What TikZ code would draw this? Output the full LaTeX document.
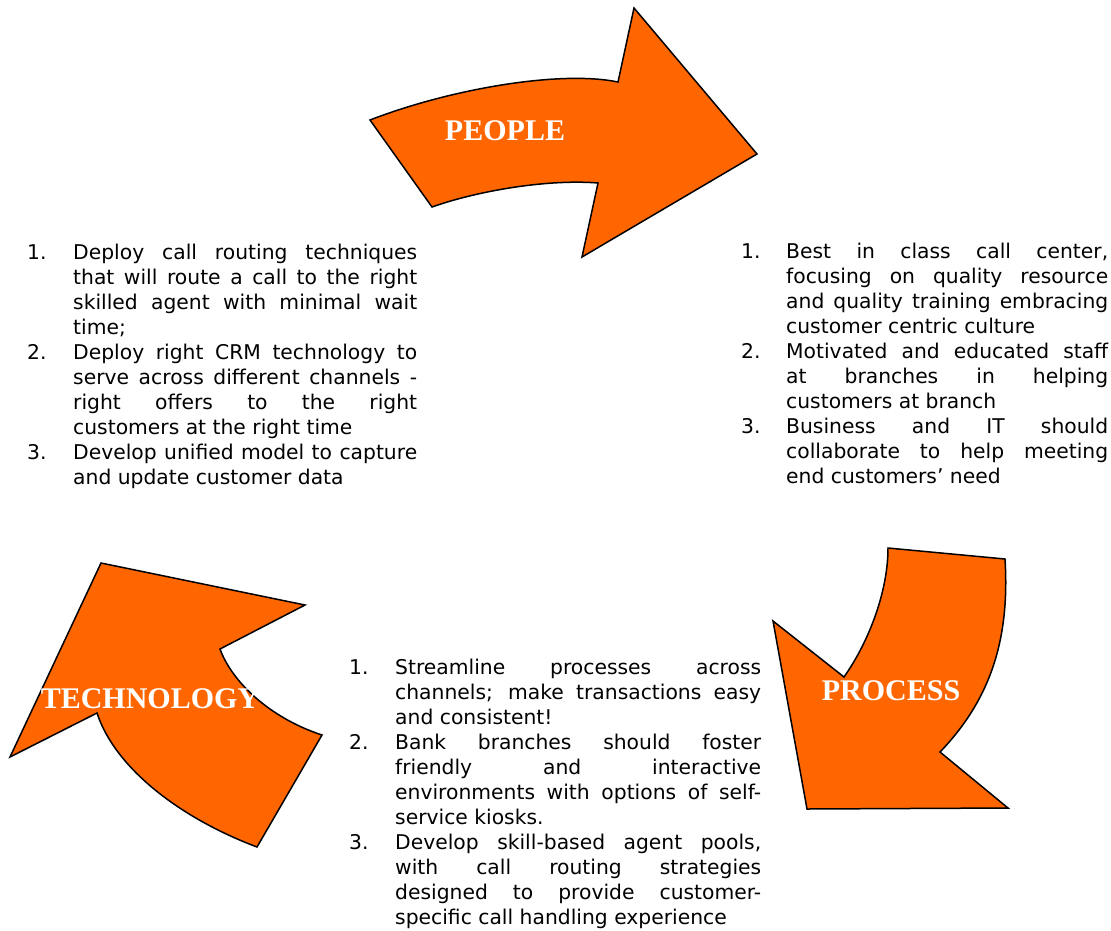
\documentclass[tikz,border=0pt]{standalone}
\usepackage{fontspec}
\setmainfont{DejaVu Sans}
\newfontfamily\titlefont{Liberation Serif}
\definecolor{arroworange}{RGB}{255,102,0}
\newlength\jw
\newlength\nw
\newcommand\Jl[2]{\noindent\makebox[\nw][l]{#1}\makebox[\jw][s]{#2}\par}
\newcommand\Ll[2]{\noindent\makebox[\nw][l]{#1}#2\par}
\newcommand\blk[3]{\parbox[t]{\dimexpr#1+#2\relax}{\setlength\nw{#1}\setlength\jw{#2}\fontsize{20.3}{25}\selectfont\parskip=0pt #3}}
\begin{document}
\begin{tikzpicture}[x=1pt,y=-1pt,
  arrowshape/.style={fill=arroworange, draw=black, line width=1.5pt, line join=miter},
  lbl/.style={text=white, font=\titlefont\bfseries\fontsize{30}{36}\selectfont, inner sep=0pt, anchor=base},
  body/.style={inner sep=0pt, anchor=base west}]
\useasboundingbox (0,0) rectangle (1111,930);
\fill[white] (0,0) rectangle (1111,930);

% PEOPLE arrow
\draw[arrowshape] (370,120) .. controls (450,89) and (560,70) .. (618,82)
  -- (634,8) -- (757,154) -- (582,257) -- (598,183)
  .. controls (550,179) and (480,190) .. (432,207) -- cycle;
% PROCESS arrow
\draw[arrowshape] (888,548) -- (1005,559)
  .. controls (1010,640) and (990,700) .. (940,752)
  -- (1008,808) -- (807,809) -- (773,621) -- (844,677)
  .. controls (870,640) and (888,590) .. (888,548) -- cycle;
% TECHNOLOGY arrow
\draw[arrowshape] (101,563) -- (305,605) -- (220,649)
  .. controls (232,682) and (270,718) .. (322,735)
  -- (257,847)
  .. controls (180,818) and (115,768) .. (97,713)
  -- (10,757) -- cycle;

\node[lbl] (people) at (505,140) {PEOPLE};
\node[lbl] (process) at (891,700) {PROCESS};
\node[lbl] (technology) at (150,708) {TECHNOLOGY};

\node[body] (leftlist) at (27,259) {\blk{46pt}{344pt}{%
\Jl{1.}{Deploy call routing techniques}
\Jl{}{that will route a call to the right}
\Jl{}{skilled agent with minimal wait}
\Ll{}{time;}
\Jl{2.}{Deploy right CRM technology to}
\Jl{}{serve across different channels -}
\Jl{}{right offers to the right}
\Ll{}{customers at the right time}
\Jl{3.}{Develop unified model to capture}
\Ll{}{and update customer data}}};

\node[body] (rightlist) at (741,258) {\blk{45pt}{322pt}{%
\Jl{1.}{Best in class call center,}
\Jl{}{focusing on quality resource}
\Jl{}{and quality training embracing}
\Ll{}{customer centric culture}
\Jl{2.}{Motivated and educated staff}
\Jl{}{at branches in helping}
\Ll{}{customers at branch}
\Jl{3.}{Business and IT should}
\Jl{}{collaborate to help meeting}
\Ll{}{end customers’ need}}};

\node[body] (bottomlist) at (349,674) {\blk{46pt}{366pt}{%
\Jl{1.}{Streamline processes across}
\Jl{}{channels; make transactions easy}
\Ll{}{and consistent!}
\Jl{2.}{Bank branches should foster}
\Jl{}{friendly and interactive}
\Jl{}{environments with options of self-}
\Ll{}{service kiosks.}
\Jl{3.}{Develop skill-based agent pools,}
\Jl{}{with call routing strategies}
\Jl{}{designed to provide customer-}
\Ll{}{specific call handling experience}}};
\end{tikzpicture}
\end{document}
